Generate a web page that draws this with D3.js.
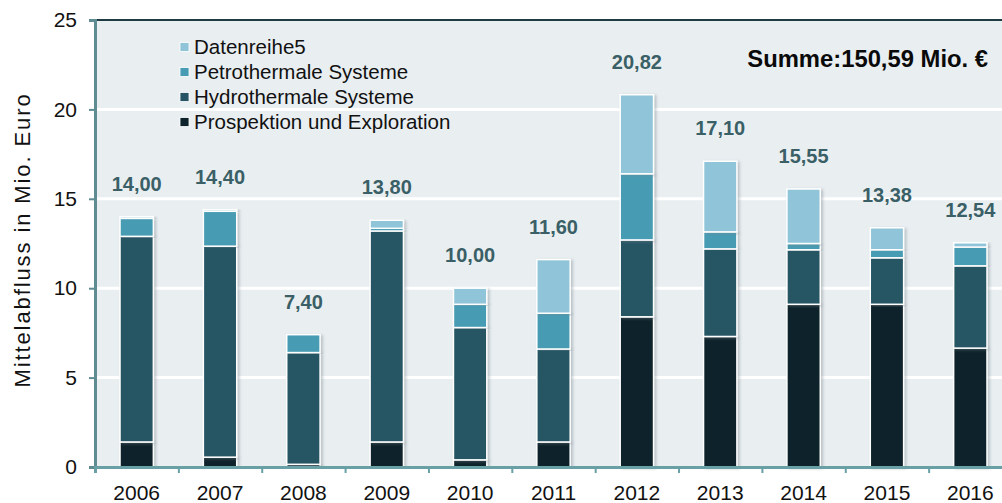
<!DOCTYPE html>
<html>
<head>
<meta charset="utf-8">
<script src="https://cdn.jsdelivr.net/npm/d3@7"></script>
<style>
  body { margin: 0; background: #fff; }
  svg { display: block; font-family: "Liberation Sans", Arial, sans-serif; }
</style>
</head>
<body>
<div id="graph"></div>
<script>
// data (Mio. Euro per year)
var years = ["2006","2007","2008","2009","2010","2011","2012","2013","2014","2015","2016"];
var prospektion = [1.4, 0.55, 0.15, 1.4, 0.4, 1.4, 8.4, 7.3, 9.1, 9.1, 6.65];
var hydrothermal = [11.5, 11.8, 6.25, 11.8, 7.4, 5.2, 4.3, 4.9, 3.05, 2.6, 4.6];
var petrothermal = [1.0, 1.95, 1.0, 0.15, 1.3, 2.0, 3.7, 0.95, 0.35, 0.45, 1.05];
var datenreihe5 = [0.1, 0.1, 0, 0.45, 0.9, 3.0, 4.42, 3.95, 3.05, 1.23, 0.24];
var seriesNames = ["Prospektion und Exploration", "Hydrothermale Systeme", "Petrothermale Systeme", "Datenreihe5"];
var seriesColors = ["#0d232b", "#255564", "#479bb2", "#90c5d9"];
var yTicks = [0, 5, 10, 15, 20, 25];

var width = 1002, height = 503;
var margin = {top: 20, left: 95, bottom: 467, right: 1012};

var de = d3.formatLocale({decimal: ",", thousands: ".", grouping: [3], currency: ["", " €"]});
var fmt = de.format(".2f");

// build table for stack
var table = years.map(function(y, i) {
  return {year: y, s0: prospektion[i], s1: hydrothermal[i], s2: petrothermal[i], s3: datenreihe5[i]};
});
var keys = ["s0", "s1", "s2", "s3"];
var stacked = d3.stack().keys(keys)(table);
var totals = table.map(function(d) { return d.s0 + d.s1 + d.s2 + d.s3; });
var summe = d3.sum(totals);

// scales
var x = d3.scaleBand().domain(years).range([margin.left, margin.right]).paddingInner(0.6).paddingOuter(0.3);
var xEdge = d3.scaleLinear().domain([0, years.length]).range([margin.left, margin.right]);
var y = d3.scaleLinear().domain([0, 25]).range([margin.bottom, margin.top]);

var svg = d3.select("#graph").append("svg")
    .attr("width", width)
    .attr("height", height);

var defs = svg.append("defs");
var f = defs.append("filter").attr("id", "shadow").attr("x", "-20%").attr("y", "-5%").attr("width", "150%").attr("height", "110%");
f.append("feDropShadow").attr("dx", 2).attr("dy", 1).attr("stdDeviation", 1.5)
  .attr("flood-color", "#7d8a8f").attr("flood-opacity", 0.45);

// plot background
svg.append("rect")
    .attr("x", margin.left).attr("y", margin.top)
    .attr("width", margin.right - margin.left).attr("height", margin.bottom - margin.top)
    .attr("fill", "#e9eef1");

// grid lines
svg.append("g")
  .selectAll("line")
  .data(yTicks.filter(function(t) { return t > 0 && t < 25; }))
  .enter().append("line")
    .attr("x1", margin.left).attr("x2", margin.right)
    .attr("y1", function(d) { return y(d); })
    .attr("y2", function(d) { return y(d); })
    .attr("stroke", "#fff").attr("stroke-width", 3);

// top border
svg.append("line")
    .attr("x1", margin.left).attr("x2", margin.right)
    .attr("y1", margin.top).attr("y2", margin.top)
    .attr("stroke", "#1f3b42").attr("stroke-width", 2);

// bars
svg.append("g")
  .selectAll("g")
  .data(stacked)
  .enter().append("g")
    .attr("fill", function(d, i) { return seriesColors[i]; })
  .selectAll("rect")
  .data(function(d) { return d.filter(function(p) { return p[1] - p[0] > 0; }); })
  .enter().append("rect")
    .attr("x", function(d) { return x(d.data.year); })
    .attr("y", function(d) { return y(d[1]); })
    .attr("width", x.bandwidth())
    .attr("height", function(d) { return y(d[0]) - y(d[1]); })
    .attr("stroke", "#fff")
    .attr("stroke-width", 1.5)
    .attr("filter", "url(#shadow)");

// y axis
var yaxis = svg.append("g")
    .attr("transform", "translate(" + margin.left + ",0)")
    .call(d3.axisLeft(y).tickValues(yTicks).tickSize(6).tickPadding(12));
yaxis.select(".domain").attr("stroke", "#5e8c92").attr("stroke-width", 3);
yaxis.selectAll(".tick line").attr("stroke", "#5e8c92").attr("stroke-width", 2);
yaxis.selectAll(".tick text").style("font-size", "21px").attr("fill", "#111");

// x axis: ticks between categories
var xaxis = svg.append("g")
    .attr("transform", "translate(0," + margin.bottom + ")")
    .call(d3.axisBottom(xEdge).tickValues(d3.range(0, years.length + 1)).tickSize(6).tickFormat(""));
xaxis.select(".domain").attr("stroke", "#68a0a6").attr("stroke-width", 3);
xaxis.selectAll(".tick line").attr("stroke", "#68a0a6").attr("stroke-width", 2);

var xlab = svg.append("g")
    .attr("transform", "translate(0," + margin.bottom + ")")
    .call(d3.axisBottom(x).tickSize(0).tickPadding(18));
xlab.select(".domain").remove();
xlab.selectAll(".tick text").style("font-size", "21px").attr("fill", "#111");

// total labels
svg.append("g")
  .selectAll("text")
  .data(table)
  .enter().append("text")
    .attr("x", function(d) { return x(d.year) + x.bandwidth() / 2; })
    .attr("y", function(d, i) { return y(totals[i]) - 26; })
    .attr("text-anchor", "middle")
    .style("font-size", "20px")
    .style("font-weight", "bold")
    .attr("fill", "#3a5f66")
    .text(function(d, i) { return fmt(totals[i]); });

// sum
svg.append("text")
    .attr("x", 988).attr("y", 67)
    .attr("text-anchor", "end")
    .style("font-size", "23.8px")
    .style("font-weight", "bold")
    .attr("fill", "#0a0a0a")
    .text("Summe:" + fmt(summe) + " Mio. €");

// y label
svg.append("text")
    .attr("transform", "translate(30,240) rotate(-90)")
    .attr("text-anchor", "middle")
    .style("font-size", "22px")
    .style("letter-spacing", "1.9px")
    .attr("fill", "#111")
    .text("Mittelabfluss in Mio. Euro");

// legend (reverse order)
var legend = svg.append("g")
  .selectAll("g")
  .data(d3.range(seriesNames.length).reverse())
  .enter().append("g")
    .attr("transform", function(d, i) { return "translate(180," + (47 + i * 25) + ")"; });
legend.append("rect")
    .attr("x", 0).attr("y", -4.5)
    .attr("width", 9).attr("height", 9)
    .attr("fill", function(d) { return seriesColors[d]; })
    .attr("stroke", "#fff").attr("stroke-width", 0.8);
legend.append("text")
    .attr("x", 14).attr("dy", "0.36em")
    .style("font-size", "20.5px")
    .attr("fill", "#111")
    .text(function(d) { return seriesNames[d]; });
</script>
</body>
</html>
